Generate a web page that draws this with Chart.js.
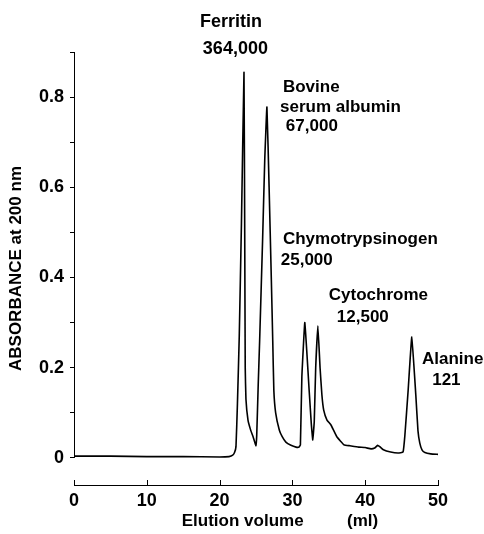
<!DOCTYPE html>
<html>
<head>
<meta charset="utf-8">
<script src="https://cdn.jsdelivr.net/npm/chart.js@4.4.1/dist/chart.umd.min.js"></script>
<style>
  body { margin: 0; background: #fff; }
  #wrap { width: 484px; height: 534px; position: relative; }
</style>
</head>
<body>
<div id="wrap"><canvas id="chart"></canvas></div>
<script>
// Elution profile: volume (ml) and absorbance at 200 nm
const elutionMl = [
  0, 5, 10, 15, 20, 21.3, 21.8, 22.05, 22.25, 22.45, 22.7, 23.0, 23.35,
  23.45, 23.52, 23.62, 23.9, 24.3, 24.6, 25.0, 25.1, 25.3, 25.5, 25.9, 26.2,
  26.5, 26.8, 27.1, 27.3, 27.45, 27.7, 28.2, 28.6, 29.1, 29.8, 30.5, 30.9,
  31.1, 31.3, 31.7, 32.0, 32.3, 32.6, 32.8, 33.0, 33.2, 33.5, 33.8, 34.05,
  34.3, 34.75, 35.3, 36.1, 37.1, 37.9, 39.1, 40.0, 40.8,
  41.3, 41.7, 42.0, 42.5, 43.5, 44.5, 45.2, 45.45, 45.9, 46.4, 46.95,
  47.25, 47.5, 47.8, 48.2, 49.0, 50.0
];
const absorbance = [
  0.004, 0.004, 0.003, 0.003, 0.002, 0.003, 0.006, 0.012, 0.025, 0.12, 0.27, 0.52, 0.855,
  0.5, 0.2, 0.13, 0.084, 0.06, 0.047, 0.027, 0.05, 0.16, 0.26, 0.48, 0.66,
  0.778, 0.6, 0.4, 0.26, 0.15, 0.1, 0.062, 0.047, 0.035, 0.028, 0.024, 0.024,
  0.029, 0.18, 0.3, 0.23, 0.15, 0.075, 0.04, 0.08, 0.2, 0.293, 0.2, 0.14,
  0.106, 0.084, 0.073, 0.047, 0.029, 0.027, 0.024, 0.023, 0.02,
  0.022, 0.028, 0.025, 0.018, 0.013, 0.011, 0.013, 0.05, 0.15, 0.268, 0.14,
  0.06, 0.033, 0.018, 0.012, 0.009, 0.008
];

const xTicks = [0, 10, 20, 30, 40, 50];
const yTicks = [0, 0.1, 0.2, 0.3, 0.4, 0.5, 0.6, 0.7, 0.8, 0.9];
const yTickLabels = ['0', '', '0.2', '', '0.4', '', '0.6', '', '0.8', ''];

const xTitle = ['Elution volume', '(ml)'];
const yTitle = 'ABSORBANCE at 200 nm';

// peak names and molecular weights, one line per entry
const peakText = [
  'Ferritin', '364,000',
  'Bovine', 'serum albumin', '67,000',
  'Chymotrypsinogen', '25,000',
  'Cytochrome', '12,500',
  'Alanine', '121'
];
// where each text line starts, in data units (ml, absorbance) at the baseline
const peakTextAt = [
  [17.3, 0.956], [17.7, 0.896],
  [28.7, 0.812], [28.3, 0.767], [29.1, 0.725],
  [28.7, 0.474], [28.4, 0.428],
  [35.0, 0.350], [36.1, 0.302],
  [47.8, 0.208], [49.2, 0.162]
];
const peakTextSize = [18, 18, 17, 17, 17, 17, 17, 17, 17, 17, 17];
const xTitleAt = [[14.8, -0.151], [37.5, -0.151]];

const FONT = '"Liberation Sans", Arial, sans-serif';

// axis pieces and annotations that Chart.js won't draw the same way
const extras = {
  id: 'extras',
  afterDraw(chart) {
    const { ctx, scales: { x, y } } = chart;
    ctx.save();
    ctx.strokeStyle = '#000';
    ctx.lineWidth = 1;

    // y axis only spans 0 .. 0.9
    const ax = Math.round(x.left) + 0.5;
    ctx.beginPath();
    ctx.moveTo(ax, y.getPixelForValue(0));
    ctx.lineTo(ax, y.getPixelForValue(0.9));
    ctx.stroke();

    // x ticks point up from the axis
    const by = x.top;
    xTicks.forEach(v => {
      const px = Math.round(x.getPixelForValue(v)) + 0.5;
      ctx.beginPath();
      ctx.moveTo(px, by);
      ctx.lineTo(px, by - 5);
      ctx.stroke();
    });

    ctx.fillStyle = '#000';
    ctx.textBaseline = 'alphabetic';
    ctx.textAlign = 'left';
    peakText.forEach((t, i) => {
      const [vx, vy] = peakTextAt[i];
      ctx.font = 'bold ' + peakTextSize[i] + 'px ' + FONT;
      ctx.fillText(t, x.getPixelForValue(vx), y.getPixelForValue(vy));
    });
    ctx.font = 'bold 17px ' + FONT;
    xTitle.forEach((t, i) => {
      const [vx, vy] = xTitleAt[i];
      ctx.fillText(t, x.getPixelForValue(vx), y.getPixelForValue(vy));
    });
    ctx.restore();
  }
};

new Chart(document.getElementById('chart'), {
  type: 'scatter',
  data: {
    datasets: [{
      data: elutionMl.map((v, i) => ({ x: v, y: absorbance[i] })),
      showLine: true,
      borderColor: '#000',
      borderWidth: 1.6,
      pointRadius: 0,
      tension: 0.1,
      fill: false
    }]
  },
  options: {
    responsive: true,
    maintainAspectRatio: false,
    animation: false,
    layout: { padding: { left: 4, right: 46, top: 52, bottom: 0 } },
    plugins: { legend: { display: false }, tooltip: { enabled: false } },
    scales: {
      x: {
        type: 'linear',
        min: 0,
        max: 50,
        afterBuildTicks: s => { s.ticks = xTicks.map(v => ({ value: v })); },
        afterFit: s => { s.height = 49; },
        grid: { display: false, drawTicks: false },
        border: { display: true, color: '#000', width: 1 },
        ticks: { color: '#000', padding: 5, font: { family: FONT, size: 18, weight: 'bold' } }
      },
      y: {
        type: 'linear',
        min: -0.06,
        max: 0.9,
        afterBuildTicks: s => { s.ticks = yTicks.map(v => ({ value: v })); },
        afterFit: s => { s.width = 70; },
        grid: { drawOnChartArea: false, drawTicks: true, tickLength: 4, color: '#000', lineWidth: 1 },
        border: { display: false },
        ticks: {
          color: '#000',
          padding: 6,
          font: { family: FONT, size: 18, weight: 'bold' },
          callback: (v, i) => yTickLabels[i]
        },
        title: {
          display: true,
          text: yTitle,
          color: '#000',
          padding: { top: 2, bottom: 0 },
          font: { family: FONT, size: 17, weight: 'bold' }
        }
      }
    }
  },
  plugins: [extras]
});
</script>
</body>
</html>
